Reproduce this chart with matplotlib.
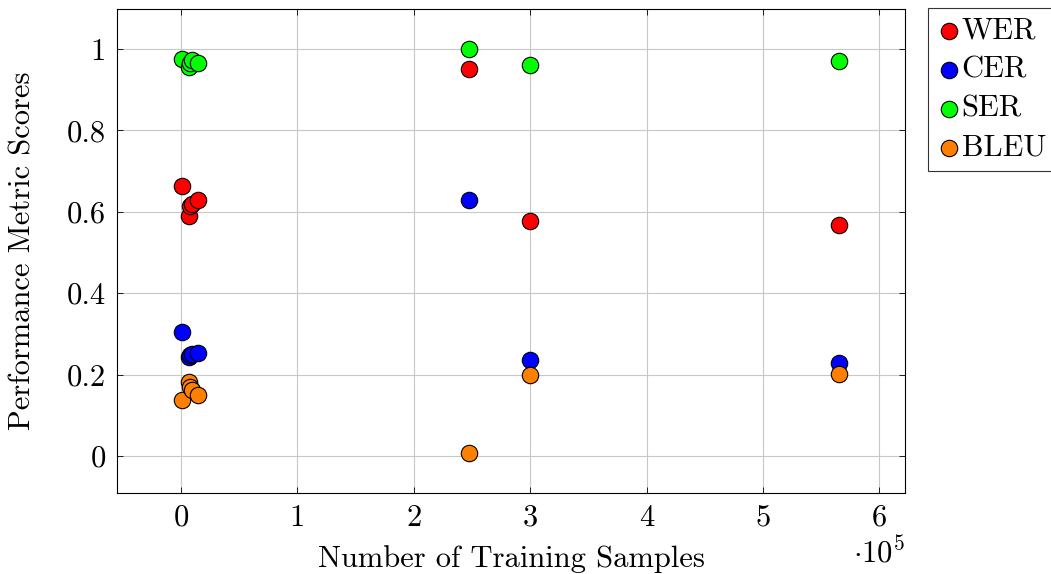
import matplotlib
matplotlib.use("Agg")
import matplotlib.pyplot as plt

plt.rcParams['font.family'] = ['cmr10', 'DejaVu Serif']
plt.rcParams['mathtext.fontset'] = 'cm'
plt.rcParams['axes.unicode_minus'] = False

samples = [1000, 7000, 8000, 9500, 15000, 247000, 300000, 565600]
wer = [0.663, 0.590, 0.615, 0.620, 0.630, 0.950, 0.577, 0.568]
cer = [0.305, 0.242, 0.247, 0.250, 0.253, 0.629, 0.236, 0.229]
ser = [0.975, 0.955, 0.965, 0.972, 0.965, 1.000, 0.961, 0.971]
bleu = [0.138, 0.182, 0.170, 0.163, 0.150, 0.007, 0.199, 0.201]

series = [("WER", wer, "#ff0000"), ("CER", cer, "#0000ff"),
          ("SER", ser, "#00ff00"), ("BLEU", bleu, "#ff8000")]

xticks = [0, 1, 2, 3, 4, 5, 6]
yticks = [0, 0.2, 0.4, 0.6, 0.8, 1.0]
ytick_labels = ["0", "0.2", "0.4", "0.6", "0.8", "1"]

FS = 22

fig = plt.figure(figsize=(10.51, 5.74), dpi=100)
ax = fig.add_axes([117/1051, 1 - 493/574, (905-117)/1051, (493-9)/574])

for name, vals, col in series:
    ax.scatter(samples, vals, s=140, c=col, edgecolors='black', linewidths=0.8,
               label=name, zorder=3)

ax.set_xlim(-0.55e5, 6.22e5)
ax.set_ylim(-0.091, 1.098)
ax.set_xticks([t * 1e5 for t in xticks])
ax.set_xticklabels([str(t) for t in xticks])
ax.set_yticks(yticks)
ax.set_yticklabels(ytick_labels)
ax.grid(True, color='#c8c8c8', linewidth=0.8, zorder=0)
ax.set_axisbelow(True)
ax.tick_params(labelsize=FS, direction='in', length=4, width=0.6, pad=8)
ax.tick_params(top=True, right=True)
for s in ax.spines.values():
    s.set_linewidth(0.8)

ax.set_xlabel("Number of Training Samples", fontsize=FS, labelpad=10)
ax.set_ylabel("Performance Metric Scores", fontsize=FS, labelpad=22)
ax.text(1.0, -0.09, r"$\cdot 10^5$", transform=ax.transAxes, fontsize=FS,
        ha='right', va='top')

leg = ax.legend(loc='upper left', fontsize=FS, frameon=True,
                fancybox=False, edgecolor='black', handletextpad=0.0,
                borderpad=0.3, labelspacing=0.38, handlelength=0.8,
                borderaxespad=0, markerscale=1.0)
leg.get_frame().set_linewidth(0.8)
leg.set_bbox_to_anchor((928/1051, 1 - 8/574), transform=fig.transFigure)

fig.savefig("out.png", dpi=100)
